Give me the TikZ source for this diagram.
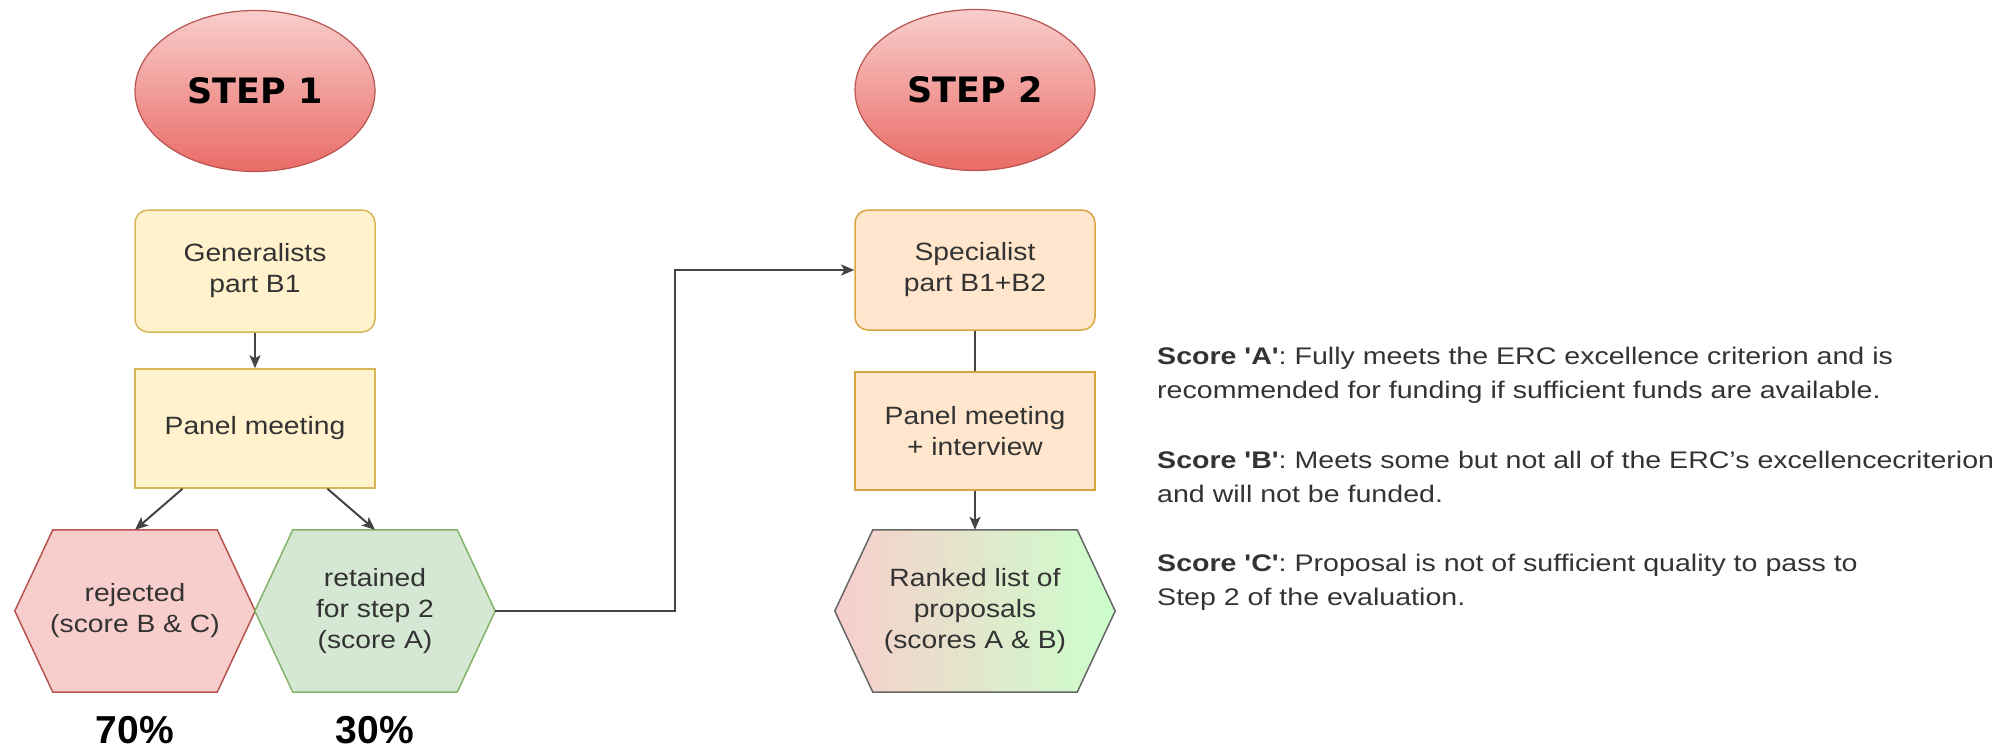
\documentclass[tikz,border=0pt]{standalone}
\usepackage{fontspec}
\setmainfont{Liberation Sans}
\newfontfamily\stepfont{DejaVu Sans}
\newfontfamily\boxfont{Liberation Sans}[FakeStretch=1.13]
\newfontfamily\notefont{Liberation Sans}[FakeStretch=1.19]
\usetikzlibrary{shapes.geometric,arrows.meta,calc,backgrounds}

\definecolor{txt}{HTML}{333333}
\definecolor{linec}{HTML}{444444}
\definecolor{ovaltop}{HTML}{F8CECC}
\definecolor{ovalbot}{HTML}{EA6B66}
\definecolor{ovalline}{HTML}{B85450}
\definecolor{yfill}{HTML}{FFF2CC}
\definecolor{yline}{HTML}{D6B656}
\definecolor{ofill}{HTML}{FFE6CC}
\definecolor{oline}{HTML}{D7A640}
\definecolor{rfill}{HTML}{F8CECC}
\definecolor{rline}{HTML}{B85450}
\definecolor{gfill}{HTML}{D5E8D4}
\definecolor{gline}{HTML}{82B366}
\definecolor{glight}{HTML}{CCFFCC}
\definecolor{greyline}{HTML}{666666}

% outline of a pointed hexagon around a named node, drawn behind its text
\newcommand\hexoutline[2]{%
  \begin{scope}[on background layer]
    \path[#2] (#1.west) -- ([xshift=38pt]#1.north west) -- ([xshift=-38pt]#1.north east)
      -- (#1.east) -- ([xshift=-38pt]#1.south east) -- ([xshift=38pt]#1.south west) -- cycle;
  \end{scope}}

\begin{document}
\begin{tikzpicture}[x=1pt,y=-1pt,
  boxtxt/.style={font=\boxfont\fontsize{25}{31}\selectfont, text=txt, align=center, inner sep=0pt},
  yellowbox/.style={boxtxt, draw=yline, fill=yfill, line width=1.5pt, minimum width=240pt},
  orangebox/.style={boxtxt, draw=oline, fill=ofill, line width=1.5pt, minimum width=240pt},
  stepoval/.style={ellipse, draw=ovalline, top color=ovaltop, bottom color=ovalbot,
    line width=1.2pt, minimum width=240pt, minimum height=161pt, inner sep=0pt,
    font=\stepfont\bfseries\fontsize{35}{40}\selectfont, text=black},
  hexnode/.style={boxtxt, minimum height=162pt},
  link/.style={draw=linec, line width=2pt, -{Stealth[length=13pt,width=11pt,inset=3pt]}},
  plainlink/.style={draw=linec, line width=2pt},
  scoretxt/.style={font=\notefont\fontsize{24}{34}\selectfont, text=txt, align=left, inner sep=0pt},
  pct/.style={font=\bfseries\fontsize{39}{44}\selectfont, text=black, inner sep=0pt}
]
\useasboundingbox (0,0) rectangle (2008,749);

% ---------- step 1 ----------
\node[stepoval] (s1) at (255,91) {STEP 1};
\node[yellowbox, rounded corners=13pt, minimum height=122pt] (gen) at (255,271)
  {Generalists\\part B1};
\node[yellowbox, minimum height=119pt] (pan1) at (255,428.5) {Panel meeting};

\node[hexnode, minimum width=240pt] (rej) at (135,611) {rejected\\(score B \& C)};
\node[hexnode, minimum width=240pt] (ret) at (375,611) {retained\\for step 2\\(score A)};
\hexoutline{rej}{fill=rfill, draw=rline, line width=1.5pt}
\hexoutline{ret}{fill=gfill, draw=gline, line width=1.5pt}

\node[pct, anchor=base] (p70) at (135,743) {70\%};
\node[pct, anchor=base] (p30) at (375,743) {30\%};

\draw[link] (gen) -- (pan1);
\draw[link] ($(pan1.south west)!0.2!(pan1.south east)$) -- (rej.north);
\draw[link] ($(pan1.south west)!0.8!(pan1.south east)$) -- (ret.north);

% ---------- step 2 ----------
\node[stepoval] (s2) at (975,90) {STEP 2};
\node[orangebox, rounded corners=13pt, minimum height=120pt] (spec) at (975,270)
  {Specialist\\part B1+B2};
\node[orangebox, minimum height=118pt] (pan2) at (975,431)
  {Panel meeting\\+ interview};
\node[hexnode, minimum width=280pt] (rank) at (975,611)
  {Ranked list of\\proposals\\(scores A \& B)};
\hexoutline{rank}{left color=rfill, right color=glight, draw=greyline, line width=1.5pt}

\draw[link] (ret.east) -- ++(180,0) |- (spec.west);
\draw[plainlink] (spec) -- (pan2);
\draw[link] (pan2) -- (rank);

% ---------- score legend ----------
\node[scoretxt, anchor=base west] (sa) at (1157,398)
  {{\bfseries Score 'A'}: Fully meets the ERC excellence criterion and is\\
   recommended for funding if sufficient funds are available.};
\node[scoretxt, anchor=base west] (sb) at (1157,502)
  {{\bfseries Score 'B'}: Meets some but not all of the ERC’s excellencecriterion\\
   and will not be funded.};
\node[scoretxt, anchor=base west] (sc) at (1157,605)
  {{\bfseries Score 'C'}: Proposal is not of sufficient quality to pass to\\
   Step 2 of the evaluation.};
\end{tikzpicture}
\end{document}
